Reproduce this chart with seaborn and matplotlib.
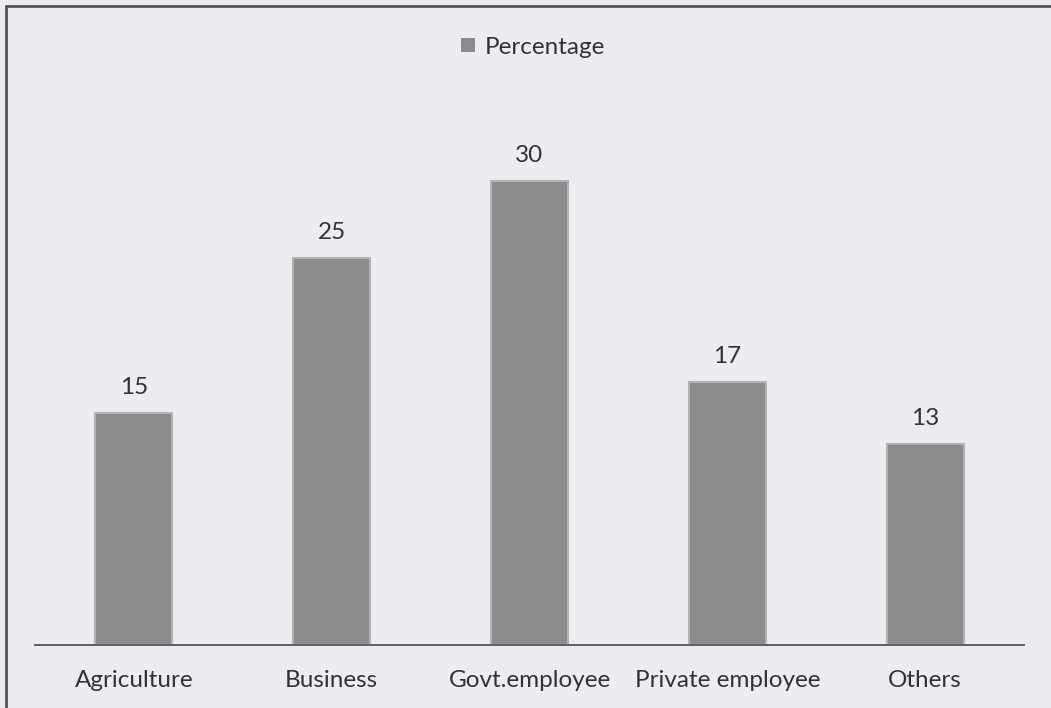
import matplotlib
matplotlib.use("Agg")
import matplotlib.pyplot as plt
from matplotlib.lines import Line2D
from matplotlib.patches import Patch
import seaborn as sns
import pandas as pd

# Occupation distribution
categories = ["Agriculture", "Business", "Govt.employee", "Private employee", "Others"]
percentage = [15, 25, 30, 17, 13]
series_name = "Percentage"

df = pd.DataFrame({"Occupation": categories, series_name: percentage})

sns.set_theme(style="white")
plt.rcParams["font.family"] = ["Lato", "DejaVu Sans"]

bg = "#eeebf1"
bar_color = "#8c8c8c"
text_color = "#333333"
fs = 17.5

W, H = 1051, 708
fig = plt.figure(figsize=(W / 100, H / 100), dpi=100, facecolor=bg)

# plot area in pixel coordinates
left, right, bottom = 35, 1024, 645
ymax = 35
px_per_unit = 464 / 30
top = bottom - ymax * px_per_unit
ax = fig.add_axes([left / W, 1 - bottom / H, (right - left) / W, (bottom - top) / H])
ax.set_facecolor(bg)

sns.barplot(data=df, x="Occupation", y=series_name, ax=ax, color=bar_color,
            width=0.39, edgecolor="#b3b3b3", linewidth=1.5, saturation=1)

ax.set_xlim(-0.5, len(categories) - 0.5)
ax.set_ylim(0, ymax)
ax.set_xlabel("")
ax.set_ylabel("")
ax.set_yticks([])
for s in ["top", "right", "left"]:
    ax.spines[s].set_visible(False)
ax.spines["bottom"].set_color("#555555")
ax.spines["bottom"].set_linewidth(1.3)
ax.tick_params(axis="x", length=0, pad=18, labelsize=fs, labelcolor=text_color)

for container in ax.containers:
    ax.bar_label(container, labels=[str(v) for v in percentage], padding=11,
                 fontsize=fs, color=text_color)

handle = Patch(facecolor=bar_color, edgecolor="none")
fig.legend([handle], [series_name], loc="center", bbox_to_anchor=(533 / W, 1 - 47 / H),
           frameon=False, fontsize=fs, handlelength=0.55, handleheight=0.55,
           handletextpad=0.4, labelcolor=text_color)

# chart frame (top and left edges)
fig.add_artist(Line2D([6 / W, 1.0], [1 - 6 / H, 1 - 6 / H], transform=fig.transFigure,
                      color="#555555", linewidth=2))
fig.add_artist(Line2D([6 / W, 6 / W], [0, 1 - 6 / H], transform=fig.transFigure,
                      color="#555555", linewidth=2))

fig.savefig("out.png", dpi=100, facecolor=bg)
